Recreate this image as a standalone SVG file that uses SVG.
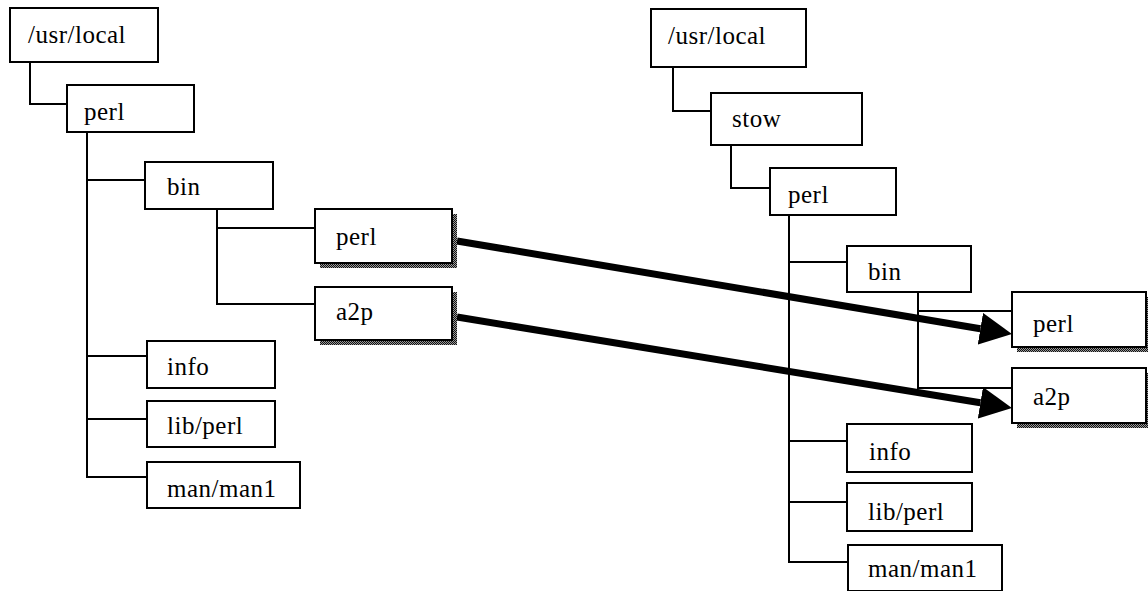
<svg xmlns="http://www.w3.org/2000/svg" width="1148" height="591" viewBox="0 0 1148 591">
<style>
.box{fill:#fff;stroke:#000;stroke-width:2}
.shadow{fill:url(#stip)}
.lbl{font-family:'Liberation Serif','DejaVu Serif',serif;font-size:25px;letter-spacing:0.5px;fill:#000}
.con{fill:none;stroke:#000;stroke-width:2}
.arrow{fill:none;stroke:#000;stroke-width:7}
</style>
<defs>
<pattern id="stip" width="2" height="2" patternUnits="userSpaceOnUse">
<rect width="2" height="2" fill="#999"/>
<rect width="1" height="1" fill="#111"/>
<rect x="1" y="1" width="1" height="1" fill="#111"/>
</pattern>
<marker id="ah" viewBox="0 0 32 32" refX="0" refY="16" markerWidth="32" markerHeight="32" markerUnits="userSpaceOnUse" orient="auto">
<path d="M0,0 L32,16 L0,32 z" fill="#000"/>
</marker>
</defs>
<rect width="1148" height="591" fill="#fff"/>
<g id="connectors">
<path class="con" d="M30,62 V104 H67"/>
<path class="con" d="M87,132 V477 H147 M87,180 H145 M87,356 H147 M87,419 H147"/>
<path class="con" d="M217,209 V304 H315 M217,228 H315"/>
<path class="con" d="M673,67 V111 H711"/>
<path class="con" d="M731,145 V188 H770"/>
<path class="con" d="M789,215 V562 H848 M789,262 H847 M789,441 H847 M789,502 H847"/>
<path class="con" d="M918,292 V388 H1012 M918,311 H1012"/>
<line class="arrow" x1="457" y1="241" x2="980.4" y2="328.7" marker-end="url(#ah)"/>
<line class="arrow" x1="457" y1="317" x2="980.4" y2="402.8" marker-end="url(#ah)"/>
</g>
<g id="l-usrlocal"><rect class="box" x="10" y="8" width="148" height="54"/><text class="lbl" x="28" y="43">/usr/local</text></g>
<g id="l-perl"><rect class="box" x="67" y="85" width="127" height="47"/><text class="lbl" x="84" y="120">perl</text></g>
<g id="l-bin"><rect class="box" x="145" y="162" width="128" height="47"/><text class="lbl" x="167" y="195">bin</text></g>
<g id="l-bin-perl"><rect class="shadow" x="320" y="214" width="137" height="54"/><rect class="box" x="315" y="209" width="137" height="54"/><text class="lbl" x="336" y="245">perl</text></g>
<g id="l-bin-a2p"><rect class="shadow" x="320" y="292" width="137" height="53"/><rect class="box" x="315" y="287" width="137" height="53"/><text class="lbl" x="336" y="320">a2p</text></g>
<g id="l-info"><rect class="box" x="147" y="341" width="128" height="47"/><text class="lbl" x="167" y="375">info</text></g>
<g id="l-libperl"><rect class="box" x="147" y="401" width="128" height="46"/><text class="lbl" x="167" y="434">lib/perl</text></g>
<g id="l-man"><rect class="box" x="147" y="462" width="153" height="46"/><text class="lbl" x="167" y="497">man/man1</text></g>
<g id="r-usrlocal"><rect class="box" x="651" y="9" width="155" height="58"/><text class="lbl" x="668" y="44">/usr/local</text></g>
<g id="r-stow"><rect class="box" x="711" y="93" width="151" height="52"/><text class="lbl" x="732" y="127">stow</text></g>
<g id="r-perl"><rect class="box" x="770" y="168" width="126" height="47"/><text class="lbl" x="788" y="203">perl</text></g>
<g id="r-bin"><rect class="box" x="847" y="246" width="124" height="46"/><text class="lbl" x="868" y="280">bin</text></g>
<g id="r-bin-perl"><rect class="shadow" x="1017" y="297" width="134" height="55"/><rect class="box" x="1012" y="292" width="134" height="55"/><text class="lbl" x="1033" y="332">perl</text></g>
<g id="r-bin-a2p"><rect class="shadow" x="1017" y="373" width="134" height="55"/><rect class="box" x="1012" y="368" width="134" height="55"/><text class="lbl" x="1033" y="405">a2p</text></g>
<g id="r-info"><rect class="box" x="847" y="424" width="125" height="48"/><text class="lbl" x="869" y="460">info</text></g>
<g id="r-libperl"><rect class="box" x="847" y="483" width="125" height="48"/><text class="lbl" x="868" y="520">lib/perl</text></g>
<g id="r-man"><rect class="box" x="848" y="545" width="154" height="46"/><text class="lbl" x="868" y="577">man/man1</text></g>
</svg>
